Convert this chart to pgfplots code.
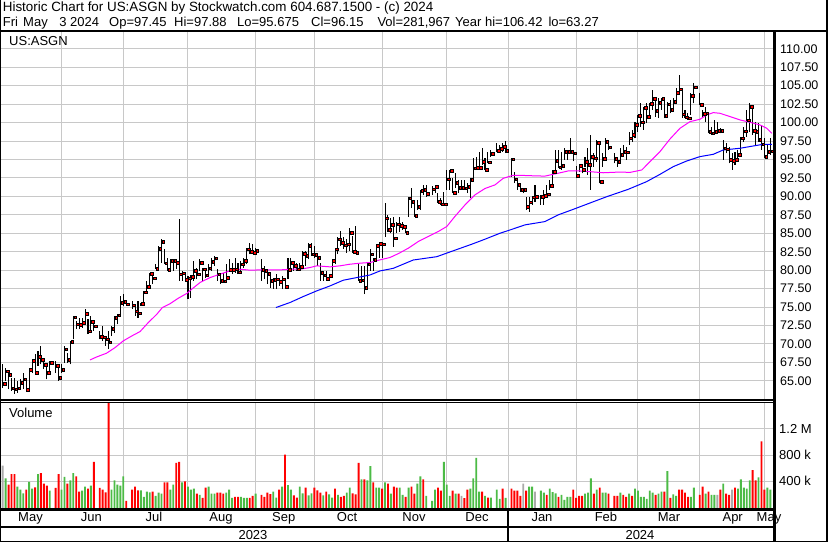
\documentclass[border=0pt]{standalone}
\usepackage{fontspec}
\setmainfont{Liberation Sans}
\usepackage{pgfplots}
\usepackage{pgfplotstable}
\pgfplotsset{compat=1.18}
\definecolor{gridgray}{RGB}{200,200,200}
\definecolor{volred}{RGB}{255,0,0}
\definecolor{volgreen}{RGB}{76,187,70}
\definecolor{volgray}{RGB}{170,170,170}
\definecolor{maone}{RGB}{255,0,255}
\definecolor{matwo}{RGB}{0,0,255}

\pgfplotstableread{
i h l cl
0 67.25 64.09 64.63
1 66.80 65.00 66.30
2 66.12 63.87 65.81
3 65.45 63.64 64.00
4 65.45 63.28 63.87
5 65.00 63.41 64.00
6 65.22 64.09 64.77
7 66.12 63.87 65.22
8 65.22 63.64 63.77
9 66.80 64.09 66.49
10 67.93 66.12 67.71
11 68.61 65.90 66.08
12 69.06 67.03 68.25
13 69.74 67.25 67.89
14 68.16 66.58 67.16
15 67.25 65.22 66.08
16 67.71 65.90 67.44
18 67.71 66.12 67.03
19 67.25 65.00 65.40
20 67.25 66.12 66.49
21 69.74 67.48 69.29
22 68.84 67.48 67.84
23 70.42 67.25 70.28
24 73.81 70.64 73.63
25 73.13 72.00 72.67
26 73.58 72.00 72.63
27 73.58 72.22 72.86
28 74.71 72.67 74.08
29 73.35 71.32 71.73
30 73.81 71.77 73.00
31 72.67 71.77 72.41
33 71.77 70.64 70.96
34 72.45 70.42 70.90
35 71.09 69.74 70.64
36 71.77 69.29 70.24
37 72.45 71.09 72.05
38 73.81 71.55 73.58
39 74.03 72.67 73.90
40 76.52 73.81 75.61
41 76.75 75.16 75.70
42 75.84 75.16 75.39
44 75.84 74.71 75.25
45 75.16 73.81 74.44
46 75.84 73.58 74.17
47 75.61 75.16 75.48
48 77.20 75.61 77.02
49 78.55 77.20 77.74
50 79.68 77.87 79.50
51 79.46 78.10 78.91
52 80.81 80.13 80.22
53 83.30 80.13 82.94
54 84.20 81.04 83.84
55 82.85 80.81 80.95
56 81.71 79.91 80.04
57 81.49 80.13 81.26
58 81.49 79.91 81.30
59 81.50 80.20 81.00
60 86.91 78.55 79.46
61 79.90 78.55 79.60
62 79.60 78.55 78.69
63 79.20 76.07 78.90
64 79.30 76.29 79.10
65 81.26 78.55 79.91
66 80.36 78.78 79.46
67 81.49 79.91 81.04
68 80.36 78.55 80.13
69 79.91 79.00 79.32
70 80.81 79.46 80.27
71 81.71 79.91 81.17
72 81.94 80.59 81.62
73 80.13 78.55 79.46
74 79.46 78.10 78.55
75 79.68 78.33 78.50
76 80.81 78.55 78.96
77 81.49 79.91 80.04
78 81.04 79.46 80.04
79 81.71 79.68 80.13
80 81.04 79.46 79.73
81 81.26 79.68 80.81
82 81.71 80.36 81.26
83 83.07 80.81 82.85
84 83.75 82.17 82.48
85 83.52 82.17 82.39
86 83.07 82.17 82.62
88 81.49 78.55 80.04
89 80.59 78.78 79.91
90 80.13 78.10 79.55
91 79.23 77.65 78.55
92 79.00 77.42 78.69
93 79.46 77.42 78.78
94 79.00 77.87 78.46
95 79.23 77.42 78.78
96 78.78 77.65 77.74
97 81.71 78.78 80.04
98 81.71 79.91 81.04
99 81.26 79.91 80.59
100 81.04 79.91 80.13
101 81.04 79.91 80.45
102 82.62 80.36 82.26
103 82.62 80.59 81.94
104 83.75 81.49 83.30
105 83.75 81.94 82.17
106 83.30 81.71 82.08
107 82.39 80.59 81.71
108 81.04 78.55 79.68
109 79.91 78.55 79.32
110 79.91 78.55 78.87
111 79.46 78.78 79.23
112 81.49 79.00 81.26
113 83.07 80.81 82.85
114 84.43 82.17 84.20
115 85.33 83.30 83.75
116 84.43 82.85 83.39
117 84.20 82.39 83.52
118 85.78 82.62 85.10
119 84.65 82.39 82.53
120 86.01 82.17 82.39
121 81.04 78.55 78.55
122 80.59 78.55 78.64
123 80.59 76.75 77.65
124 81.04 77.42 80.81
125 82.85 79.91 82.17
126 81.71 79.91 81.44
127 83.52 81.49 83.34
128 83.75 81.71 83.61
129 83.52 81.71 83.52
130 89.08 84.56 87.04
131 87.50 85.24 85.46
132 87.04 85.01 86.14
133 87.27 83.20 84.33
134 86.59 85.01 86.23
135 87.27 85.24 86.01
136 86.59 85.46 85.92
137 86.14 85.01 85.10
138 89.98 87.27 89.76
139 91.11 88.40 89.30
140 89.08 87.27 87.41
141 89.53 88.17 88.63
142 90.89 88.17 90.79
143 91.56 90.21 90.89
144 91.56 89.98 90.34
146 91.34 90.21 90.98
147 91.56 90.43 91.34
148 90.43 89.08 89.30
149 89.76 88.85 88.94
150 90.66 88.85 88.94
151 93.59 90.89 92.33
152 93.59 90.89 93.46
153 92.47 90.44 90.52
154 93.14 91.11 91.88
155 92.24 90.44 91.20
156 92.24 90.89 91.20
157 92.24 90.89 91.10
158 91.79 90.44 91.34
159 92.47 89.76 92.24
160 95.18 92.02 93.82
161 95.40 93.82 93.85
162 96.08 93.82 93.91
163 96.54 94.27 94.73
164 95.18 93.60 93.60
165 96.08 94.50 94.64
166 96.31 95.40 95.77
168 97.21 96.08 96.17
169 96.99 96.08 96.44
170 97.21 96.08 96.76
171 97.44 95.86 96.17
173 95.18 92.69 95.04
174 93.37 91.79 92.33
175 92.47 90.89 91.56
176 91.56 90.66 90.89
177 91.11 90.44 90.89
178 89.98 88.17 88.63
179 89.98 87.95 89.21
180 89.98 88.85 89.89
181 91.56 89.30 89.98
183 90.21 88.85 89.98
184 90.89 88.85 90.07
185 91.56 89.98 90.30
186 92.24 90.89 91.43
187 93.59 91.34 93.37
188 96.31 93.59 94.82
189 96.31 93.82 93.96
190 96.08 93.59 94.14
191 96.54 94.95 96.04
192 96.31 94.95 96.08
193 97.89 95.86 96.04
194 96.08 94.73 95.86
195 94.05 92.47 92.78
196 94.27 93.37 94.14
197 94.03 93.13 93.58
198 95.39 94.03 94.71
199 96.52 92.90 94.26
200 98.33 90.87 95.39
201 95.84 94.03 95.16
202 97.65 94.71 97.29
203 96.97 91.77 91.99
204 95.84 94.03 95.07
205 97.87 95.39 97.42
206 97.65 96.29 96.65
208 95.84 94.49 95.07
209 95.39 94.03 94.71
210 96.52 94.71 95.61
211 96.97 95.61 96.02
212 96.74 94.94 95.97
213 98.78 96.97 97.87
214 99.00 97.42 98.33
215 100.13 97.87 99.68
216 101.04 98.78 100.90
217 102.62 99.46 100.04
218 102.17 99.00 102.03
219 102.62 99.91 100.81
220 102.62 100.59 102.57
221 104.43 101.72 103.25
222 103.30 100.81 101.62
223 103.30 100.59 102.71
224 103.30 101.72 103.25
225 103.30 100.59 100.90
226 102.84 101.04 102.48
227 103.07 101.26 101.72
228 103.30 101.94 102.80
229 104.65 102.62 104.07
230 106.42 104.20 104.52
231 104.65 100.59 101.13
232 101.72 100.59 100.72
233 101.26 100.36 100.59
234 103.97 101.04 103.61
235 105.33 102.62 104.79
237 103.97 102.39 102.39
238 101.72 100.59 101.17
239 102.17 100.13 101.26
240 101.04 98.55 98.78
241 99.46 98.33 98.55
242 100.36 98.78 98.78
243 100.13 98.78 98.91
244 99.23 98.55 98.91
245 97.65 94.94 96.52
246 97.19 95.84 96.38
247 96.74 94.49 94.94
248 95.84 93.58 94.84
249 96.07 94.26 94.94
250 96.29 94.94 95.61
251 98.10 95.39 97.87
252 99.46 97.42 98.82
253 101.72 98.10 100.31
254 102.62 98.78 102.17
255 102.17 98.33 98.87
256 100.13 96.97 98.78
257 99.91 97.42 97.65
258 99.68 96.29 97.06
259 97.87 95.16 95.39
260 96.97 95.16 96.07
261 97.88 95.675 96.15
}\pricedata

\pgfplotstableread{
i v col
0 641 2
1 451 1
2 359 0
3 513 0
4 513 0
5 328 1
6 282 1
7 226 1
8 282 0
9 400 1
10 297 1
11 318 0
12 513 1
13 528 0
14 374 0
15 344 0
16 267 1
18 308 0
19 513 0
20 282 1
21 472 1
22 374 0
23 420 1
24 528 1
25 482 0
26 251 0
27 267 1
28 328 1
29 297 0
30 344 1
31 697 0
33 308 0
34 282 0
35 241 0
36 1700 0
37 282 1
38 420 1
39 359 1
40 344 1
41 482 1
42 113 0
44 282 0
45 328 0
46 272 0
47 272 1
48 174 1
49 251 1
50 241 1
51 251 0
52 190 1
53 236 1
54 221 1
55 390 0
56 390 0
57 282 1
58 359 1
59 682 0
60 697 0
61 390 1
62 405 0
63 328 1
64 282 1
65 297 1
66 221 0
67 205 1
68 159 0
69 313 0
70 328 1
71 221 1
72 221 1
73 236 0
74 236 0
75 221 0
76 236 1
77 282 1
78 159 1
79 174 0
80 174 0
81 174 1
82 159 1
83 159 1
84 159 0
85 190 0
86 221 1
88 205 0
89 174 0
90 236 0
91 215 0
92 253 1
93 162 1
94 282 0
95 328 1
96 805 0
97 349 1
98 282 1
99 195 0
100 164 0
101 328 1
102 226 1
103 313 0
104 195 1
105 226 1
106 313 0
107 272 0
108 236 0
109 195 1
110 251 0
111 210 1
112 164 1
113 297 0
114 205 1
115 174 0
116 190 0
117 236 1
118 313 1
119 226 0
120 210 0
121 682 0
122 436 1
123 436 0
124 420 1
125 636 1
126 390 0
127 313 1
128 313 1
129 297 0
130 390 1
131 374 0
132 221 1
133 328 0
134 313 0
135 313 1
136 205 1
137 174 0
138 313 1
139 328 0
140 221 0
141 374 1
142 482 1
143 436 0
144 190 1
146 113 1
147 282 1
148 313 0
149 267 0
150 697 1
151 359 1
152 190 1
153 267 0
154 221 1
155 221 0
156 190 2
157 154 0
158 282 0
159 297 1
160 451 1
161 759 1
162 251 1
163 251 0
164 190 1
165 164 0
166 164 1
168 282 1
169 144 1
170 297 0
171 159 1
173 297 0
174 267 0
175 267 0
176 190 0
177 374 2
178 267 0
179 328 1
180 328 1
181 251 2
183 267 1
184 236 1
185 205 0
186 297 1
187 246 1
188 226 1
189 174 0
190 205 1
191 128 1
192 174 1
193 174 1
194 282 0
195 159 0
196 190 0
197 190 0
198 221 1
199 236 1
200 451 1
201 221 0
202 282 1
203 313 0
204 236 1
205 236 1
206 221 0
208 190 0
209 190 0
210 236 1
211 205 0
212 174 0
213 221 1
214 190 0
215 297 1
216 267 1
217 174 1
218 174 1
219 144 1
220 267 1
221 236 1
222 205 0
223 221 1
224 251 1
225 251 0
226 559 1
227 159 0
228 210 1
229 190 1
230 282 0
231 282 0
232 236 0
233 174 0
234 174 1
235 313 1
237 205 0
238 328 0
239 221 1
240 251 0
241 205 1
242 205 1
243 205 2
244 282 0
245 374 1
246 221 0
247 205 0
248 282 2
249 313 0
250 297 1
251 436 1
252 313 1
253 297 1
254 420 1
255 574 0
256 420 0
257 467 1
258 1005 0
259 282 0
260 313 1
261 282 1
}\voldata

\pgfplotstableread{
i m
29.7 67.84
32.0 68.25
35.3 68.75
38.2 69.51
41.0 70.42
43.9 71.09
46.7 71.68
49.5 72.90
52.4 74.03
54.3 74.94
57.0 75.48
59.7 76.20
62.6 76.85
64.5 77.50
67.1 78.33
70.5 79.00
73.9 79.46
77.3 79.91
80.7 80.13
84.1 80.00
87.5 80.04
90.9 80.04
94.3 80.04
97.7 80.13
101.1 80.13
104.5 80.36
106.8 80.59
111.3 80.45
114.7 80.59
118.1 80.81
121.5 80.95
124.9 81.04
128.3 81.40
131.7 81.72
134.8 82.30
138.0 83.00
141.3 83.88
144.7 84.56
148.1 85.24
151.0 85.92
153.8 87.30
157.2 88.85
160.6 90.21
164.0 91.07
167.4 91.56
170.2 92.45
173.5 92.85
177.6 92.83
181.0 92.78
184.4 92.75
188.9 93.14
192.3 93.45
196.0 93.45
199.7 93.35
204.2 93.20
209.9 93.30
213.3 93.25
217.3 93.58
220.1 94.71
223.5 96.07
226.9 97.78
230.3 99.23
233.7 100.13
237.1 100.45
239.4 101.04
241.6 101.35
243.9 101.26
247.3 100.81
250.7 100.36
254.1 100.04
257.5 99.68
259.8 99.23
261.5 98.55
}\maone

\pgfplotstableread{
i m
92.9 74.94
97.7 75.62
102.2 76.43
106.8 77.20
111.3 77.87
115.8 78.64
120.4 79.00
124.9 79.35
128.3 79.90
132.8 80.25
139.6 81.38
147.6 81.83
154.4 82.80
159.5 83.52
164.0 84.20
169.1 85.01
171.9 85.37
177.6 86.14
184.4 86.59
188.9 87.50
193.5 88.17
198.0 88.85
205.4 89.96
212.7 90.96
218.9 91.99
223.5 92.99
228.0 94.03
232.6 94.80
237.1 95.39
241.6 95.70
245.0 96.29
250.7 96.52
255.2 96.83
258.6 97.06
261.5 97.06
}\matwo

\pgfplotsset{
  panel/.style={
    scale only axis, width=772bp, anchor=south west,
    xmin=-0.578, xmax=261.92,
    axis line style={draw=none}, tick style={draw=none},
    major tick length=0pt,
    xtick={20,41,63,86,106,129,151,172,195,216,237,259},
    xticklabels={}, yticklabels={},
    grid=major, grid style={draw=gridgray, line width=1bp},
  }
}

\begin{document}
\begin{tikzpicture}[font=\fontsize{13bp}{15bp}\selectfont]
\begin{scope}[x=1bp,y=1bp]
\path[fill=white] (0,0) rectangle (830,543);
\end{scope}

% price panel
\begin{axis}[panel, at={(1bp,143bp)}, height=369bp,
  ymin=62.41, ymax=112.41, ytick={65,67.5,...,110}]
\addplot[draw=none, mark=none, forget plot,
  error bars/.cd, y dir=plus, y explicit, error mark=none,
  error bar style={draw=black, line width=1.05bp}]
  table[x=i, y=l, y error expr=\thisrow{h}-\thisrow{l}] {\pricedata};
\addplot[only marks, mark=square*, mark size=1.3bp,
  mark options={draw=none, fill=volred}]
  table[x expr=\thisrow{i}+0.6, y=cl] {\pricedata};
\addplot[maone, line width=1bp, mark=none] table[x=i, y=m] {\maone};
\addplot[matwo, line width=1bp, mark=none] table[x=i, y=m] {\matwo};
\end{axis}

% volume panel
\begin{axis}[panel, at={(1bp,34.5bp)}, height=106.2bp,
  ymin=0, ymax=1590, ytick={400,800,1200}]
\addplot[ybar, bar width=1.9bp, bar shift=0pt, fill=volred, draw=none,
  restrict expr to domain={\thisrow{col}}{-0.5:0.5}]
  table[x=i, y=v] {\voldata};
\addplot[ybar, bar width=1.9bp, bar shift=0pt, fill=volgreen, draw=none,
  restrict expr to domain={\thisrow{col}}{0.5:1.5}]
  table[x=i, y=v] {\voldata};
\addplot[ybar, bar width=1.9bp, bar shift=0pt, fill=volgray, draw=none,
  restrict expr to domain={\thisrow{col}}{1.5:2.5}]
  table[x=i, y=v] {\voldata};
\end{axis}

\begin{scope}[x=1bp,y=1bp]
% frame lines (y = 543 - pixel row)
\draw[line width=1.5bp] (0,511.8) -- (827,511.8);
\draw[line width=1.1bp] (0,143) -- (774,143);
\draw[line width=1.1bp] (0,140.7) -- (774,140.7);
\draw[line width=2.5bp] (0,33.3) -- (774,33.3);
\draw[line width=2bp] (0,16) -- (774,16);
\draw[line width=2bp] (508.3,33.3) -- (508.3,1.5);
\draw[line width=2.5bp] (774.3,511.8) -- (774.3,1.5);
\draw[line width=1.5bp] (0.75,543) -- (0.75,1.5) -- (827,1.5) -- (827,543);

% header
\node[anchor=base west, inner sep=0, font=\fontsize{13.4bp}{15bp}\selectfont] at (2.7,531) {Historic Chart for US:ASGN by Stockwatch.com 604.687.1500 - (c) 2024};
\node[anchor=base west, inner sep=0] at (2.7,516) {Fri};
\node[anchor=base west, inner sep=0] at (23,516) {May};
\node[anchor=base west, inner sep=0] at (59.3,516) {3};
\node[anchor=base west, inner sep=0] at (70,516) {2024};
\node[anchor=base west, inner sep=0] at (109,516) {Op=97.45};
\node[anchor=base west, inner sep=0] at (174,516) {Hi=97.88};
\node[anchor=base west, inner sep=0] at (237,516) {Lo=95.675};
\node[anchor=base west, inner sep=0] at (311,516) {Cl=96.15};
\node[anchor=base west, inner sep=0] at (377.3,516) {Vol=281,967};
\node[anchor=base west, inner sep=0] at (455,516) {Year hi=106.42};
\node[anchor=base west, inner sep=0] at (548.3,516) {lo=63.27};

\node[anchor=base west, inner sep=0] at (9,497) {US:ASGN};
\node[anchor=base west, inner sep=0] at (9,125.3) {Volume};

% price labels
\foreach \p/\t in {110/110.00,107.5/107.50,105/105.00,102.5/102.50,100/100.00,97.5/97.50,95/95.00,92.5/92.50,90/90.00,87.5/87.50,85/85.00,82.5/82.50,80/80.00,77.5/77.50,75/75.00,72.5/72.50,70/70.00,67.5/67.50,65/65.00}{
  \pgfmathsetmacro\yy{543-(48.8+(110-\p)*7.38)-4.3}
  \node[anchor=base west, inner sep=0, font=\fontsize{12.5bp}{14bp}\selectfont] at (780,\yy) {\t};
}
\node[anchor=base west, inner sep=0] at (779,109.7) {1.2 M};
\node[anchor=base west, inner sep=0] at (779,83.4) {800 k};
\node[anchor=base west, inner sep=0] at (779,57.1) {400 k};

% month labels
\foreach \x/\m in {30.5/May,91.3/Jun,154/Jul,221/Aug,283.7/Sep,347/Oct,414/Nov,477/Dec,542/Jan,606/Feb,669/Mar,732.7/Apr,769/May}{
  \node[anchor=base, inner sep=0] at (\x,21.5) {\m};
}
\node[anchor=base, inner sep=0] at (253,4) {2023};
\node[anchor=base, inner sep=0] at (640,4) {2024};
\end{scope}
\pgfresetboundingbox
\path (0,0) rectangle (830bp,543bp);
\end{tikzpicture}
\end{document}
